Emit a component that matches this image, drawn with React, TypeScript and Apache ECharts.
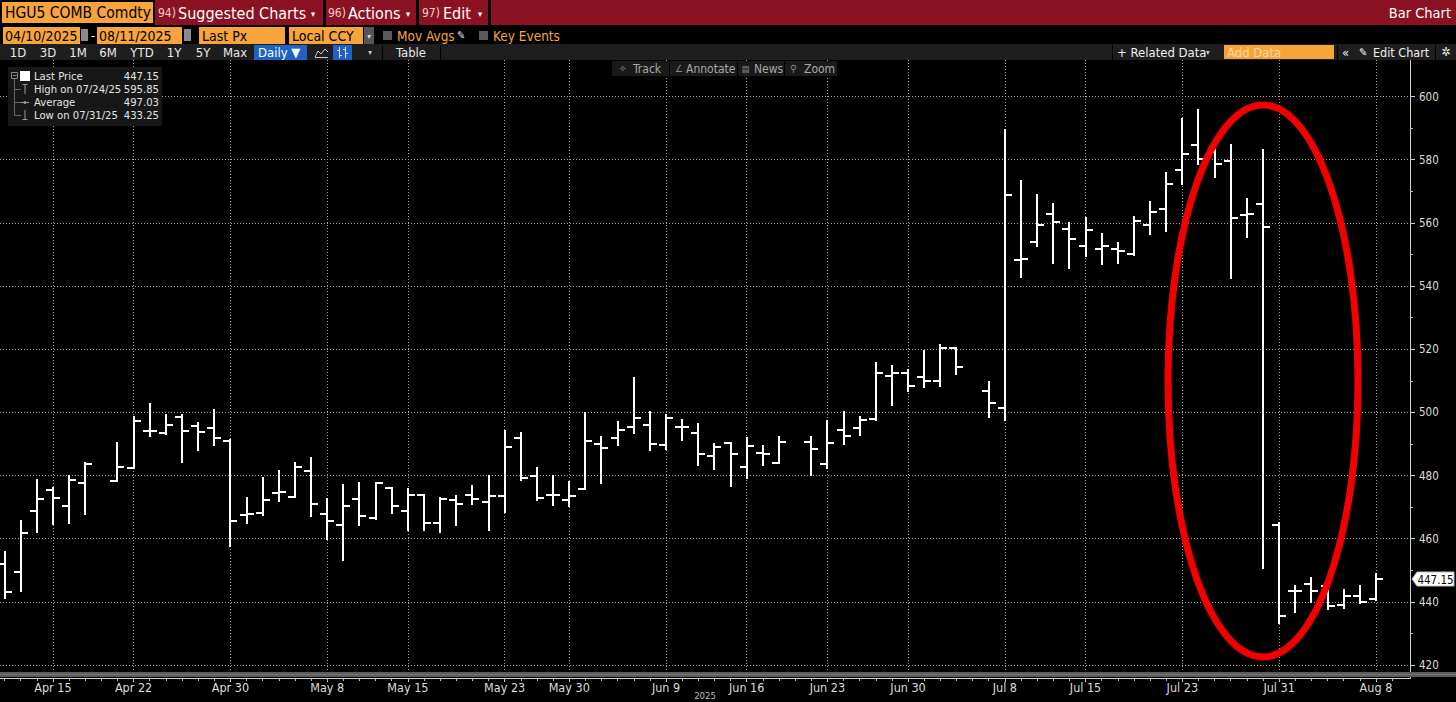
import React, { useEffect, useRef } from "react";
import * as echarts from "echarts";

// ---------- DATA ----------
// one slot per weekday shown on the Bloomberg time axis (May 26 is not a slot)
const days = [
  "Apr 10", "Apr 11", "Apr 14", "Apr 15", "Apr 16", "Apr 17", "Apr 18", "Apr 21", "Apr 22", "Apr 23",
  "Apr 24", "Apr 25", "Apr 28", "Apr 29", "Apr 30", "May 1", "May 2", "May 5", "May 6", "May 7",
  "May 8", "May 9", "May 12", "May 13", "May 14", "May 15", "May 16", "May 19", "May 20", "May 21",
  "May 22", "May 23", "May 27", "May 28", "May 29", "May 30", "Jun 2", "Jun 3", "Jun 4", "Jun 5",
  "Jun 6", "Jun 9", "Jun 10", "Jun 11", "Jun 12", "Jun 13", "Jun 16", "Jun 17", "Jun 18", "Jun 19",
  "Jun 20", "Jun 23", "Jun 24", "Jun 25", "Jun 26", "Jun 27", "Jun 30", "Jul 1", "Jul 2", "Jul 3",
  "Jul 4", "Jul 7", "Jul 8", "Jul 9", "Jul 10", "Jul 11", "Jul 14", "Jul 15", "Jul 16", "Jul 17",
  "Jul 18", "Jul 21", "Jul 22", "Jul 23", "Jul 24", "Jul 25", "Jul 28", "Jul 29", "Jul 30", "Jul 31",
  "Aug 1", "Aug 4", "Aug 5", "Aug 6", "Aug 7", "Aug 8", "Aug 11",
];

const openPx = [
  452.0, 449.5, 468.9, 475.3, 470.5, 477.6, null, 478.4, 482.3, 494.1,
  493.6, 498.6, 495.7, 495.0, 491.0, 467.4, 468.1, 474.6, 473.2, 481.5,
  467.9, 464.4, 472.5, 466.4, 476.0, 468.9, 473.9, 465.0, 472.1, 473.9,
  471.5, 473.4, 492.0, 479.9, 473.9, 472.3, 475.8, 490.0, 491.8, 495.3,
  496.0, 489.7, 495.5, 493.6, 486.2, 490.2, 482.6, 487.0, 483.9, null,
  490.7, 483.5, 494.3, 495.0, 497.9, 511.4, 512.6, 511.2, 509.8, 520.5,
  null, 506.6, 501.4, 548.2, 554.0, 562.9, 558.2, 552.6, 551.6, 551.6,
  550.1, 559.3, 564.5, 576.6, 584.5, 582.5, 579.7, 562.5, 565.9, 464.2,
  443.3, 445.5, 445.0, 438.9, 441.7, 441.0, null,
];
const highPx = [
  455.7, 465.5, 478.6, 476.0, 479.7, 483.9, null, 490.2, 498.6, 502.5,
  499.2, 499.0, 496.7, 500.7, 491.2, 473.0, 479.2, 481.3, 484.1, 485.4,
  472.5, 477.0, 477.6, 477.6, 476.2, 475.7, 473.9, 472.8, 473.4, 476.7,
  479.9, 494.1, 493.6, 482.3, 479.7, 477.8, 499.9, 492.1, 497.0, 510.9,
  500.2, 499.2, 497.6, 496.3, 490.0, 490.4, 491.8, 489.4, 492.1, null,
  492.1, 497.2, 500.1, 498.5, 515.6, 514.7, 513.5, 519.3, 521.2, 520.5,
  null, 509.5, 589.5, 573.2, 568.7, 566.1, 560.1, 561.4, 556.6, 553.5,
  561.7, 566.6, 575.9, 593.0, 595.85, 583.0, 584.7, 567.5, 583.0, 465.0,
  445.0, 447.6, 445.5, 443.8, 445.0, 448.9, null,
];
const lowPx = [
  441.3, 443.4, 462.0, 464.6, 464.9, 467.9, null, 478.4, 482.3, 492.5,
  493.2, 484.4, 488.1, 489.7, 457.6, 465.0, 467.6, 471.8, 473.2, 467.1,
  460.0, 453.4, 464.3, 466.2, 468.1, 462.8, 462.6, 462.0, 464.4, 471.1,
  462.8, 468.6, 478.6, 472.3, 470.7, 470.2, 475.8, 477.6, 489.7, 493.4,
  488.1, 488.3, 491.3, 483.4, 482.0, 476.7, 479.2, 483.4, 483.9, null,
  480.2, 482.4, 490.1, 492.9, 497.5, 502.4, 506.6, 508.0, 508.4, 512.2,
  null, 498.5, 497.5, 542.7, 552.6, 547.4, 545.6, 549.6, 546.9, 547.4,
  549.8, 556.4, 557.5, 572.2, 578.6, 574.4, 542.6, 555.5, 450.6, 433.25,
  436.7, 440.0, 437.7, 438.0, 439.5, 440.6, null,
];
const closePx = [
  443.1, 461.8, 472.5, 472.8, 478.6, 483.7, null, 482.6, 497.4, 494.1,
  496.0, 494.2, 493.7, 492.0, 465.7, 467.8, 472.3, 474.8, 482.8, 470.9,
  465.5, 470.2, 467.3, 477.6, 470.3, 473.9, 465.0, 472.6, 471.1, 472.5,
  473.4, 489.0, 479.2, 472.8, 473.9, 473.4, 491.0, 488.6, 494.4, 498.1,
  490.0, 498.1, 495.3, 486.8, 488.9, 486.8, 489.4, 486.7, 490.7, null,
  488.3, 490.3, 492.4, 497.5, 512.4, 512.4, 508.4, 509.8, 520.3, 514.2,
  null, 502.9, 568.7, 548.5, 559.3, 560.3, 555.0, 557.7, 552.6, 551.2,
  560.6, 563.5, 572.2, 581.8, 580.3, 578.6, 561.4, 562.7, 558.6, 435.6,
  443.5, 443.5, 438.8, 441.7, 439.8, 447.15, null,
];

const xTickDays = [
  "Apr 15", "Apr 22", "Apr 30", "May 8", "May 15", "May 23", "May 30", "Jun 9",
  "Jun 16", "Jun 23", "Jun 30", "Jul 8", "Jul 15", "Jul 23", "Jul 31", "Aug 8",
];
const yMin = 420;
const yMax = 600;
const yStep = 20;
const yearLabel = "2025";

const legendLabels = ["Last Price", "High on 07/24/25", "Average", "Low on 07/31/25"];
const legendValues = ["447.15", "595.85", "497.03", "433.25"];
const lastPrice = 447.15;

// ---------- STYLE ----------
const FONT = "'DejaVu Sans Condensed', 'DejaVu Sans', sans-serif";
const ORANGE = "#f7a43a";
const RED = "#8a1222";

type TOpt = { c?: string; s?: number; a?: string; w?: string };
const T = (x: number, y: number, text: string, o: TOpt = {}) => ({
  type: "text",
  x,
  y,
  silent: true,
  z: 50,
  style: {
    text,
    fill: o.c || "#ffffff",
    fontSize: o.s || 13,
    fontFamily: FONT,
    fontWeight: o.w || "normal",
    align: o.a || "left",
    verticalAlign: "middle",
  },
});
const R = (x: number, y: number, w: number, h: number, fill: string, extra: any = {}) => ({
  type: "rect",
  silent: true,
  z: 40,
  shape: { x, y, width: w, height: h },
  style: { fill, ...extra },
});
const L = (x1: number, y1: number, x2: number, y2: number, stroke: string, lw = 1) => ({
  type: "line",
  silent: true,
  z: 45,
  shape: { x1, y1, x2, y2 },
  style: { stroke, lineWidth: lw },
});

function buildGraphics() {
  const g: any[] = [];
  // ---- top red bar ----
  g.push(R(0, 0, 1456, 26, "#000"));
  g.push(R(155, 0, 168, 25, RED));
  g.push(R(326, 0, 90, 25, RED));
  g.push(R(419, 0, 69, 25, RED));
  g.push(R(491, 0, 965, 25, RED));
  g.push(R(2, 2, 151, 21, ORANGE));
  g.push(T(5, 13, "HGU5 COMB Comdty", { c: "#000", s: 15.5 }));
  g.push(T(158, 13, "94)", { c: "#f3cccc", s: 12 }));
  g.push(T(178, 13, "Suggested Charts", { s: 16 }));
  g.push(T(311, 14, "▾", { s: 9 }));
  g.push(T(328, 13, "96)", { c: "#f3cccc", s: 12 }));
  g.push(T(348, 13, "Actions", { s: 16 }));
  g.push(T(406, 14, "▾", { s: 9 }));
  g.push(T(422, 13, "97)", { c: "#f3cccc", s: 12 }));
  g.push(T(443, 13, "Edit", { s: 16 }));
  g.push(T(478, 14, "▾", { s: 9 }));
  g.push(T(1451, 13, "Bar Chart", { s: 14.5, a: "right" }));

  // ---- second row ----
  g.push(R(0, 26, 1456, 18, "#000"));
  g.push(R(3, 27, 77, 17, ORANGE));
  g.push(T(5, 35.5, "04/10/2025", { c: "#000", s: 14 }));
  g.push(R(81, 29, 7, 12, "#8a8a8a"));
  g.push(T(91, 35.5, "-", { s: 13 }));
  g.push(R(97, 27, 85, 17, ORANGE));
  g.push(T(99, 35.5, "08/11/2025", { c: "#000", s: 14 }));
  g.push(R(184, 29, 7, 12, "#8a8a8a"));
  g.push(R(199, 27, 86, 17, ORANGE));
  g.push(T(202, 35.5, "Last Px", { c: "#000", s: 14 }));
  g.push(R(289, 27, 74, 17, ORANGE));
  g.push(T(292, 35.5, "Local CCY", { c: "#000", s: 14 }));
  g.push(R(364, 27, 10, 17, "#555"));
  g.push(T(369, 36, "▾", { s: 8, a: "center", c: "#ddd" }));
  g.push(R(383, 31, 9, 9, "#5a5a5a"));
  g.push(T(397, 35.5, "Mov Avgs", { c: ORANGE, s: 13.5 }));
  g.push(T(457, 35.5, "✎", { c: "#ddd", s: 11 }));
  g.push(R(479, 31, 9, 9, "#5a5a5a"));
  g.push(T(493, 35.5, "Key Events", { c: ORANGE, s: 13.5 }));

  // ---- third row ----
  g.push(R(0, 44, 1456, 16, "#1e1e1e"));
  const periods: [number, string][] = [
    [18, "1D"], [48, "3D"], [78, "1M"], [108, "6M"], [142, "YTD"], [174, "1Y"], [203, "5Y"], [235, "Max"],
  ];
  periods.forEach(([x, t]) => g.push(T(x, 52, t, { s: 13, a: "center", c: "#e8e8e8" })));
  g.push(R(254, 45, 53, 15, "#1d62c4"));
  g.push(T(258, 52, "Daily ▼", { s: 13 }));
  g.push({
    type: "polyline", silent: true, z: 45,
    shape: { points: [[315, 57], [318, 51], [321, 54], [325, 49], [328, 52]] },
    style: { stroke: "#ccc", fill: "none", lineWidth: 1 },
  });
  g.push(L(315, 57.5, 328, 57.5, "#ccc"));
  g.push(R(333, 45, 19, 15, "#1d62c4"));
  g.push(L(339.5, 47, 339.5, 58, "#ddd"));
  g.push(L(345.5, 47, 345.5, 58, "#ddd"));
  g.push(L(337, 50.5, 339.5, 50.5, "#ddd"));
  g.push(L(339.5, 55.5, 342, 55.5, "#ddd"));
  g.push(L(343, 49.5, 345.5, 49.5, "#ddd"));
  g.push(L(345.5, 53.5, 348, 53.5, "#ddd"));
  g.push(T(370, 52, "▾", { s: 8, a: "center", c: "#ccc" }));
  g.push(R(382, 45, 1, 15, "#000"));
  g.push(T(411, 52, "Table", { s: 13, a: "center", c: "#e8e8e8" }));
  g.push(R(440, 45, 1, 15, "#000"));
  g.push(R(1112, 45, 1, 15, "#000"));
  g.push(T(1117, 52, "+ Related Data", { s: 13, c: "#f0f0f0" }));
  g.push(T(1206, 52, "▾", { s: 8, c: "#ccc" }));
  g.push(R(1224, 45, 110, 14, ORANGE));
  g.push(T(1227, 52, "Add Data", { s: 13, c: "#fbd8a6" }));
  g.push(R(1337, 45, 1, 15, "#000"));
  g.push(T(1342, 52, "«", { s: 13, c: "#f0f0f0" }));
  g.push(T(1359, 52, "✎", { s: 11, c: "#f0f0f0" }));
  g.push(T(1373, 52, "Edit Chart", { s: 12.5, c: "#f0f0f0" }));
  g.push(R(1435, 45, 1, 15, "#000"));
  g.push(T(1446, 52, "✲", { s: 12, a: "center", c: "#f0f0f0" }));

  // ---- chart toolbar ----
  g.push(R(612, 61, 57, 15, "#1a1a1a"));
  g.push(R(670, 61, 67, 15, "#1a1a1a"));
  g.push(R(738, 61, 46, 15, "#1a1a1a"));
  g.push(R(785, 61, 52, 15, "#1a1a1a"));
  g.push(T(619, 68.5, "✧", { s: 10, c: "#8a8a8a" }));
  g.push(T(633, 68.5, "Track", { s: 12, c: "#a8a8a8" }));
  g.push(T(675, 68.5, "∠", { s: 10, c: "#8a8a8a" }));
  g.push(T(686, 68.5, "Annotate", { s: 12, c: "#a8a8a8" }));
  g.push(T(742, 68.5, "▤", { s: 9, c: "#8a8a8a" }));
  g.push(T(754, 68.5, "News", { s: 12, c: "#a8a8a8" }));
  g.push(T(790, 68.5, "⚲", { s: 10, c: "#8a8a8a" }));
  g.push(T(804, 68.5, "Zoom", { s: 12, c: "#a8a8a8" }));

  // ---- legend box ----
  g.push(R(8, 67, 154, 59, "#171717"));
  g.push(R(11.5, 72.5, 6, 6, "none", { stroke: "#888", lineWidth: 1 }));
  g.push(L(13, 75.5, 16.5, 75.5, "#888"));
  g.push(L(14.5, 79, 14.5, 115.5, "#666"));
  g.push(L(14.5, 89.5, 21, 89.5, "#666"));
  g.push(L(14.5, 102.5, 21, 102.5, "#666"));
  g.push(L(14.5, 115.5, 21, 115.5, "#666"));
  g.push(R(20, 71, 10, 10, "#ffffff"));
  g.push(L(22.5, 84.5, 27.5, 84.5, "#999"));
  g.push(L(25, 84.5, 25, 94, "#999"));
  g.push(L(21, 102.5, 29, 102.5, "#999"));
  g.push({ type: "circle", silent: true, z: 46, shape: { cx: 25, cy: 102.5, r: 1.5 }, style: { fill: "#999" } });
  g.push(L(25, 110, 25, 119.5, "#999"));
  g.push(L(22.5, 119.5, 27.5, 119.5, "#999"));
  const rowY = [76, 89, 102, 115];
  legendLabels.forEach((lab, i) => {
    g.push(T(34, rowY[i], lab, { s: 11.2, c: "#e4e4e4" }));
    g.push(T(159, rowY[i], legendValues[i], { s: 11.2, c: "#e4e4e4", a: "right" }));
  });

  // ---- x-axis scrollbar band ----
  g.push(R(0, 672, 1456, 5, "#5c5c5c"));
  g.push(R(0, 674, 1456, 1, "#777"));

  // ---- red highlight ellipse ----
  g.push({
    type: "ellipse",
    silent: true,
    z: 100,
    shape: { cx: 1263, cy: 381, rx: 95, ry: 276 },
    style: { fill: "none", stroke: "#f20000", lineWidth: 7 },
  });
  return g;
}

export default function App() {
  const ref = useRef<HTMLDivElement>(null);

  useEffect(() => {
    if (!ref.current) return;
    const chart = echarts.init(ref.current, null, { renderer: "svg" });

    const bars = days
      .map((d, i) =>
        openPx[i] == null ? null : [i, openPx[i], highPx[i], lowPx[i], closePx[i]]
      )
      .filter((v) => v !== null);
    const lastIdx = closePx.lastIndexOf(lastPrice);
    const tickIdx = xTickDays.map((d) => days.indexOf(d));
    const allIdx = days.map((_, i) => i);

    // slot 0 sits at x≈4.5px and slot 85 at x≈1376px in a 1410px-wide plot
    const xMin = -0.279;
    const xMax = 87.11;

    const gridLine = { color: "#a6a6a6", width: 1, type: [1, 2] as any };

    const option: any = {
      animation: false,
      backgroundColor: "#000000",
      textStyle: { fontFamily: FONT },
      grid: [
        { left: 0, right: 46, top: 96.5, bottom: 37, outerBoundsMode: "none" },
        { left: 0, right: 46, top: 60, bottom: 24, outerBoundsMode: "none" },
        { left: 0, right: 46, top: 60, bottom: 24, outerBoundsMode: "none" },
      ],
      xAxis: [
        { type: "value", gridIndex: 0, min: xMin, max: xMax, show: false, axisLine: { onZero: false } },
        {
          type: "value",
          gridIndex: 1,
          min: xMin,
          max: xMax,
          position: "bottom",
          axisLine: { show: true, onZero: false, lineStyle: { color: "#d8d8d8", width: 1 } },
          axisTick: { show: true, customValues: tickIdx, length: 4, lineStyle: { color: "#d8d8d8" } },
          axisLabel: {
            show: true,
            customValues: tickIdx,
            formatter: (v: number) => days[Math.round(v)],
            color: "#dcdcdc",
            fontSize: 12.5,
            fontFamily: FONT,
            margin: 3,
          },
          splitLine: { show: true, lineStyle: gridLine },
          name: yearLabel,
          nameLocation: "middle",
          nameGap: 17,
          nameMoveOverlap: false,
          nameTextStyle: { color: "#bdbdbd", fontSize: 9.5, fontFamily: FONT, verticalAlign: "middle" },
        },
        {
          type: "value",
          gridIndex: 2,
          min: xMin,
          max: xMax,
          position: "bottom",
          axisLine: { show: false, onZero: false },
          axisTick: { show: true, customValues: allIdx, length: 3, lineStyle: { color: "#bcbcbc" } },
          axisLabel: { show: false },
          splitLine: { show: false },
        },
      ],
      yAxis: [
        {
          type: "value",
          gridIndex: 0,
          position: "right",
          min: yMin,
          max: yMax,
          interval: yStep,
          axisLine: { show: false, onZero: false },
          axisTick: { show: true, inside: false, length: 5, lineStyle: { color: "#d0d0d0" } },
          minorTick: { show: true, splitNumber: 2, length: 3, lineStyle: { color: "#bdbdbd" } },
          axisLabel: { show: true, color: "#dcdcdc", fontSize: 11.5, fontFamily: FONT, margin: 9 },
          splitLine: { show: true, lineStyle: gridLine },
        },
        {
          type: "value",
          gridIndex: 1,
          position: "right",
          min: 0,
          max: 1,
          axisLine: { show: true, onZero: false, lineStyle: { color: "#cfcfcf", width: 1 } },
          axisTick: { show: false },
          axisLabel: { show: false },
          splitLine: { show: false },
        },
        {
          type: "value",
          gridIndex: 2,
          min: 0,
          max: 1,
          show: false,
          axisLine: { onZero: false },
        },
      ],
      series: [
        {
          type: "custom",
          name: "HGU5 COMB Comdty",
          xAxisIndex: 0,
          yAxisIndex: 0,
          data: bars,
          encode: { x: 0, y: [1, 2, 3, 4] },
          clip: false,
          renderItem: (params: any, api: any) => {
            const i = api.value(0);
            const pO = api.coord([i, api.value(1)]);
            const pH = api.coord([i, api.value(2)]);
            const pL = api.coord([i, api.value(3)]);
            const pC = api.coord([i, api.value(4)]);
            const x = Math.round(pO[0]);
            const st = { stroke: "#ffffff", lineWidth: 2 };
            return {
              type: "group",
              children: [
                { type: "line", shape: { x1: x, y1: Math.round(pH[1]) - 1, x2: x, y2: Math.round(pL[1]) + 1 }, style: st },
                { type: "line", shape: { x1: x - 7, y1: Math.round(pO[1]), x2: x, y2: Math.round(pO[1]) }, style: st },
                { type: "line", shape: { x1: x, y1: Math.round(pC[1]), x2: x + 7, y2: Math.round(pC[1]) }, style: st },
              ],
            };
          },
        },
        {
          type: "custom",
          name: "Last Price",
          xAxisIndex: 0,
          yAxisIndex: 0,
          data: [[lastIdx, lastPrice]],
          encode: { x: 0, y: 1 },
          clip: false,
          z: 60,
          renderItem: (params: any, api: any) => {
            const y = Math.round(api.coord([api.value(0), api.value(1)])[1]);
            return {
              type: "group",
              children: [
                {
                  type: "polygon",
                  shape: { points: [[1412, y], [1417, y - 7], [1454, y - 7], [1454, y + 7], [1417, y + 7]] },
                  style: { fill: "#ffffff", stroke: "#bbbbbb", lineWidth: 1 },
                },
                {
                  type: "text",
                  x: 1435.5,
                  y: y + 0.5,
                  style: {
                    text: String(api.value(1)),
                    fill: "#000000",
                    fontSize: 11.5,
                    fontFamily: FONT,
                    align: "center",
                    verticalAlign: "middle",
                  },
                },
              ],
            };
          },
        },
      ],
      graphic: { elements: buildGraphics() },
    };

    chart.setOption(option);
    return () => chart.dispose();
  }, []);

  return (
    <div
      ref={ref}
      style={{ position: "fixed", left: 0, top: 0, width: 1456, height: 702, background: "#000" }}
    />
  );
}
